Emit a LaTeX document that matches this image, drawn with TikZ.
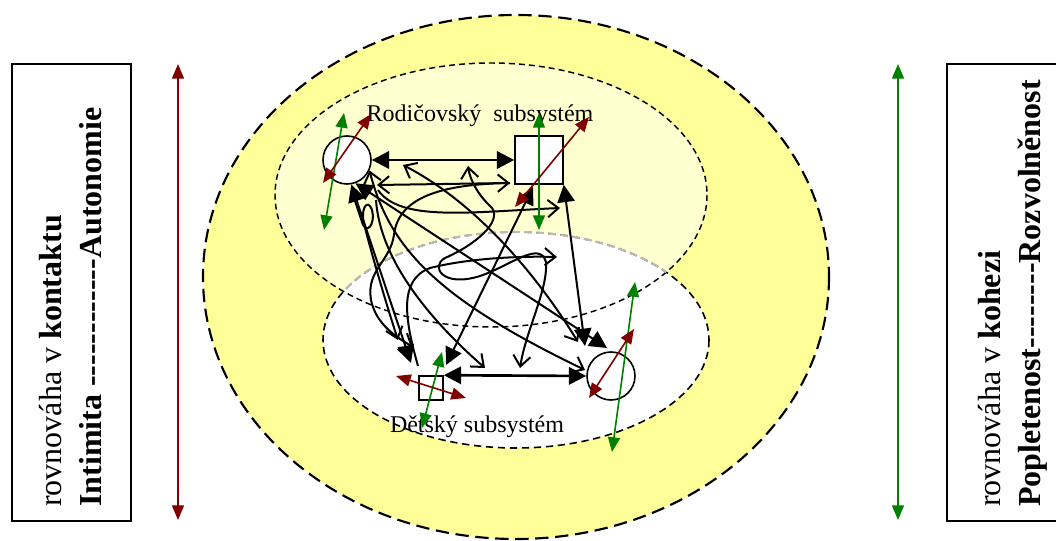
\documentclass[tikz,border=0pt]{standalone}
\usepackage{fontspec}
\setmainfont{Liberation Serif}
\usetikzlibrary{arrows.meta,calc}

\definecolor{axred}{HTML}{800000}
\definecolor{axgreen}{HTML}{008000}
\definecolor{outeryellow}{HTML}{FFFF99}
\definecolor{paleyellow}{HTML}{FFFFD0}

\tikzset{
  fulltip/.tip={Triangle[length=13pt,width=13pt]},
  opentip/.tip={Straight Barb[length=8pt,width=13pt]},
  axtip/.tip={Triangle[length=11pt,width=9pt]},
  heavy/.style={line width=2pt, fulltip-fulltip},
  solidlink/.style={line width=1.5pt, fulltip-fulltip},
  wander/.style={line width=1.5pt},
  redaxis/.style={draw=axred, line width=1.2pt, axtip-axtip},
  greenaxis/.style={draw=axgreen, line width=1.2pt, axtip-axtip},
  circ/.style={circle, draw, fill=white, line width=1.2pt, minimum size=36pt, inner sep=0pt},
  sq/.style={rectangle, draw, fill=white, line width=1.2pt, inner sep=0pt},
  sidetext/.style={rotate=90, anchor=base west, inner sep=0pt, font=\fontsize{24}{28}\selectfont},
  label/.style={anchor=base, inner sep=0pt, font=\fontsize{18}{22}\selectfont},
}

\begin{document}
\begin{tikzpicture}[x=0.75pt, y=-0.75pt]
\useasboundingbox (0,0) rectangle (1056,541);

% family field: outer yellow oval
\draw[fill=outeryellow, line width=1.6pt, dash pattern=on 10pt off 5pt]
  (516,277) ellipse [x radius=313, y radius=262];

% subsystem fields
\fill[paleyellow] (491,195) ellipse [x radius=216, y radius=132];
\fill[white] (516,340) ellipse [x radius=193, y radius=108];
\draw[line width=1.1pt, dash pattern=on 4.5pt off 3pt]
  (491,195) ellipse [x radius=216, y radius=132];
\draw[line width=1.2pt, dash pattern=on 5.5pt off 3.5pt]
  (516,340) ellipse [x radius=193, y radius=108];
\begin{scope}
  \clip (491,195) ellipse [x radius=216, y radius=132];
  \draw[gray!55, line width=1.6pt, dash pattern=on 5.5pt off 3.5pt]
    (516,340) ellipse [x radius=193, y radius=108];
\end{scope}

% side boxes with their texts
\draw[line width=1.4pt] (12,64) rectangle (131,521);
\draw[line width=1.4pt] (947,64) rectangle (1062,521);
\node[sidetext] (lt1) at (61,507) {rovnováha v \textbf{kontaktu}};
\node[sidetext] (lt2) at (101,507) {\textbf{Intimita -{}-{}-{}-{}-{}-{}-{}-{}-{}-{}-{}-Autonomie}};
\node[sidetext] (rt1) at (1000,507) {rovnováha v \textbf{kohezi}};
\node[sidetext] (rt2) at (1040,507) {\textbf{Popletenost-{}-{}-{}-{}-{}-{}-{}-Rozvolněnost}};

% side scales
\coordinate (lsTop) at (178,64);  \coordinate (lsBot) at (178,520);
\coordinate (rsTop) at (898,64);  \coordinate (rsBot) at (898,520);
\draw[redaxis] (lsTop) -- (lsBot);
\draw[greenaxis] (rsTop) -- (rsBot);

% members
\node[circ] (c1) at (347,160) {};
\node[sq, minimum size=36pt] (s1) at (539,160) {};
\node[sq, minimum size=18pt] (s2) at (431,388) {};
\node[circ] (c2) at (611,376) {};

\node[label] (lpar) at (480,122) {Rodičovský~ subsystém};
\node[label] (lchi) at (477,432) {Dětský subsystém};

% end points of the relation lines
\coordinate (kC) at (585,346);
\coordinate (dB) at (411,363);
\coordinate (eA) at (533,187);
\coordinate (eB) at (446,365);
\coordinate (fB) at (607,348);
\coordinate (gB) at (585,370);
\coordinate (hA) at (377,185);
\coordinate (hB) at (510,183);
\coordinate (iA) at (378,190);
\coordinate (iB) at (560,208);
\coordinate (qB) at (413,347);
\coordinate (sA) at (354,198);
\coordinate (sB) at (398,340);
\coordinate (lA) at (418,366);
\coordinate (lB) at (557,257);
\coordinate (mA) at (468,166);
\coordinate (mB) at (520,368);
\coordinate (nA) at (403,165);
\coordinate (nB) at (578,342);
\coordinate (pA) at (376,200);
\coordinate (pB) at (485,368);

% direct relations
\draw[heavy] (c1.east) -- (s1.west);
\draw[heavy] (s2.north east) -- (c2.west);
\draw[solidlink] (s1.south east) -- (kC);
\draw[solidlink] (c1.280) -- (dB);
\draw[solidlink] (eA) -- (eB);
\draw[solidlink] (c1.-70) -- (fB);

% tangled relations
\draw[wander, opentip-opentip] (c1.-25) .. controls (390,250) and (440,300) .. (gB);
\draw[wander, opentip-opentip] (hA) -- (hB);
\draw[wander, -opentip] (iA) .. controls (400,222) and (470,212) .. (iB);
\draw[wander, -opentip] (hB) .. controls (440,184) and (398,198) .. (394,235)
  .. controls (390,262) and (366,270) .. (371,300)
  .. controls (376,325) and (398,338) .. (qB);
\draw[wander, -opentip] (sA) -- (362,222) .. controls (366,236) and (376,224) .. (372,210)
  .. controls (368,198) and (360,208) .. (364,224)
  .. controls (372,255) and (385,300) .. (sB);
\draw[wander, -opentip] (lA) .. controls (405,320) and (398,280) .. (430,268)
  .. controls (470,258) and (520,256) .. (lB);
\draw[wander, opentip-opentip] (mA) .. controls (470,180) and (478,195) .. (492,208)
  .. controls (502,222) and (475,245) .. (445,258)
  .. controls (430,266) and (442,288) .. (480,276)
  .. controls (510,266) and (540,240) .. (546,262)
  .. controls (548,290) and (526,330) .. (mB);
\draw[wander, opentip-opentip] (nA) .. controls (480,205) and (540,280) .. (nB);
\draw[wander, -opentip] (pA) .. controls (380,260) and (430,320) .. (pB);

% intimacy / cohesion scales at each member
\coordinate (g1a) at (324,230); \coordinate (g1b) at (344,113);
\coordinate (r1a) at (323,183); \coordinate (r1b) at (371,114);
\coordinate (g2a) at (539,230); \coordinate (g2b) at (539,113);
\coordinate (r2a) at (515,207); \coordinate (r2b) at (589,117);
\coordinate (g3a) at (422,428); \coordinate (g3b) at (442,352);
\coordinate (r3a) at (396,376); \coordinate (r3b) at (466,398);
\coordinate (g4a) at (612,452); \coordinate (g4b) at (635,282);
\coordinate (r4a) at (589,398); \coordinate (r4b) at (634,329);
\draw[greenaxis] (g1a) -- (g1b);
\draw[redaxis] (r1a) -- (r1b);
\draw[greenaxis] (g2a) -- (g2b);
\draw[redaxis] (r2a) -- (r2b);
\draw[greenaxis] (g3a) -- (g3b);
\draw[redaxis] (r3a) -- (r3b);
\draw[greenaxis] (g4a) -- (g4b);
\draw[redaxis] (r4a) -- (r4b);
\end{tikzpicture}
\end{document}
